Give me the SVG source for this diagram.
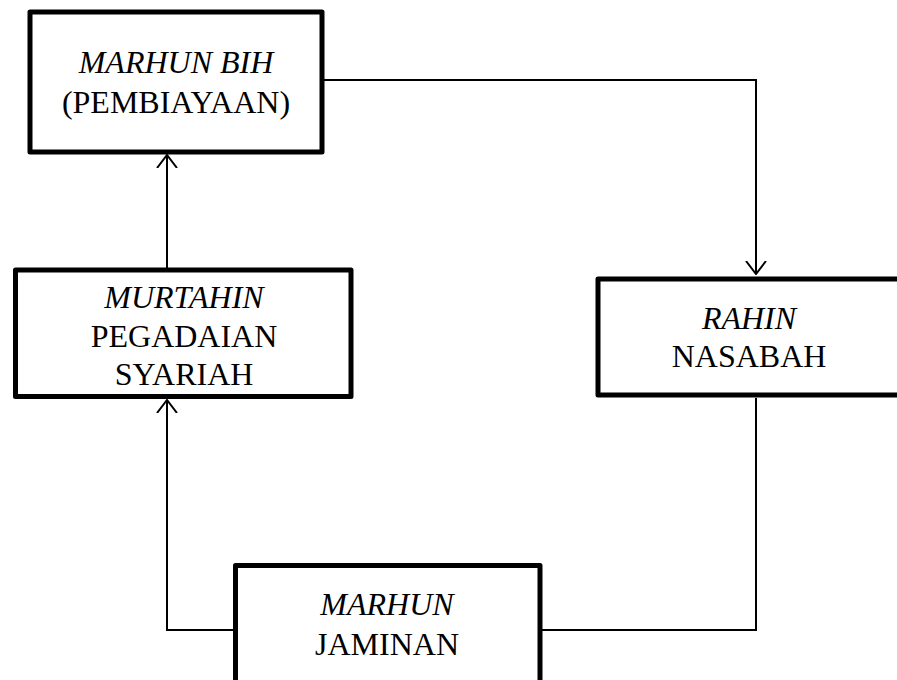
<svg xmlns="http://www.w3.org/2000/svg" width="897" height="680" viewBox="0 0 897 680">
<style>
.box{fill:#fff;stroke:#000;stroke-width:5;stroke-linejoin:round}
.t{font-family:"Liberation Serif","Times New Roman",serif;font-size:32px;fill:#000;text-anchor:middle}
.i{font-style:italic}
.c{fill:none;stroke:#000;stroke-width:2}
</style>
<defs>
<marker id="arr" viewBox="0 0 14 22" refX="13" refY="11" markerWidth="14" markerHeight="22" markerUnits="userSpaceOnUse" orient="auto">
<path d="M0,1 L13,11 L0,21" fill="none" stroke="#000" stroke-width="2"/>
</marker>
</defs>
<g id="connectors">
<path class="c" d="M324,80 H756 V274" marker-end="url(#arr)"/>
<path class="c" d="M167,269 V155" marker-end="url(#arr)"/>
<path class="c" d="M233,630 H167 V400" marker-end="url(#arr)"/>
<path class="c" d="M756,398 V630 H542"/>
</g>
<g id="marhun-bih">
<rect class="box" x="30" y="12" width="292" height="140"/>
<text class="t i" x="176" y="73">MARHUN BIH</text>
<text class="t" x="176" y="113">(PEMBIAYAAN)</text>
</g>
<g id="murtahin">
<rect class="box" x="15.5" y="270" width="335.5" height="126.5"/>
<text class="t i" x="184" y="308">MURTAHIN</text>
<text class="t" x="184" y="347">PEGADAIAN</text>
<text class="t" x="184" y="385">SYARIAH</text>
</g>
<g id="rahin">
<rect class="box" x="598" y="279" width="320" height="116"/>
<text class="t i" x="749" y="329">RAHIN</text>
<text class="t" x="749" y="367">NASABAH</text>
</g>
<g id="marhun">
<rect class="box" x="235.5" y="565.5" width="304.5" height="140"/>
<text class="t i" x="387" y="615">MARHUN</text>
<text class="t" x="387" y="655">JAMINAN</text>
</g>
</svg>
